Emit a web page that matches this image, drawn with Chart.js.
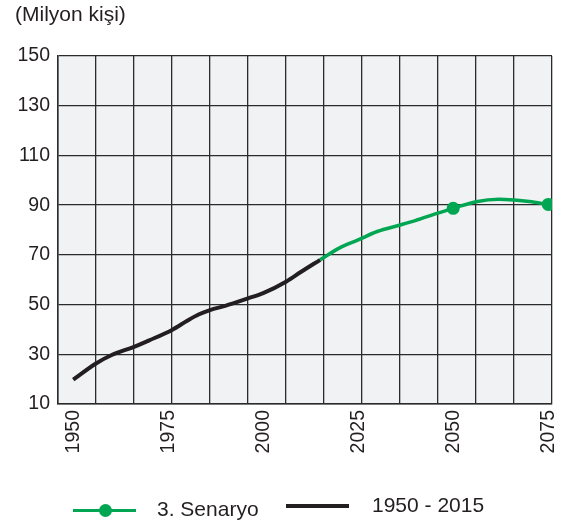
<!DOCTYPE html>
<html>
<head>
<meta charset="utf-8">
<script src="https://cdn.jsdelivr.net/npm/chart.js@4/dist/chart.umd.min.js"></script>
<style>
  body { margin: 0; background: #fff; font-family: "Liberation Sans", Arial, sans-serif; }
  #wrap { position: relative; width: 567px; height: 525px; }
  #title { position: absolute; left: 15px; top: 2px; font-size: 21px; color: #231f20; }
  .leg-line { position: absolute; height: 4px; }
  .leg-dot { position: absolute; width: 13px; height: 13px; border-radius: 50%; background: #00a651; }
  .leg-text { position: absolute; font-size: 21px; color: #231f20; }
</style>
</head>
<body>
<div id="wrap">
  <canvas id="chart" width="567" height="525"></canvas>
  <div id="title">(Milyon kişi)</div>
  <div class="leg-line" style="left:73px; top:509px; width:63px; height:3px; background:#00a651;"></div>
  <div class="leg-dot" style="left:99px; top:504px;"></div>
  <div class="leg-text" style="left:157px; top:497px;">3. Senaryo</div>
  <div class="leg-line" style="left:286px; top:504px; width:63px; background:#231f20;"></div>
  <div class="leg-text" style="left:372px; top:493px;">1950 - 2015</div>
</div>
<script>
// gecmis veriler (1950 - 2015)
const pastYears = [1950, 1956, 1960, 1966, 1970, 1976, 1980, 1983, 1986, 1990, 1996, 2000, 2006, 2010, 2015];
const pastValues = [19.8, 26.3, 29.6, 33, 35.6, 39.8, 43.5, 46, 47.8, 49.5, 52.5, 54.6, 59.2, 63.2, 68];

// 3. senaryo
const scenYears = [2015, 2020, 2025, 2030, 2036, 2040, 2046, 2050, 2056, 2062, 2066, 2070, 2075];
const scenValues = [68, 72.7, 76, 79.4, 82, 83.8, 86.8, 88.7, 91.4, 92.4, 92.1, 91.5, 90.3];
const markerYears = [2050, 2075];

const gridYears = [1946, 1956, 1966, 1976, 1986, 1996, 2006, 2016, 2026, 2036, 2046, 2056, 2066, 2076];
const labelYears = [1950, 1975, 2000, 2025, 2050, 2075];
const yLabels = [10, 30, 50, 70, 90, 110, 130, 150];

const gridColor = "#2b2b2b";

const plotBg = {
  id: "plotBg",
  beforeDraw(chart) {
    const a = chart.chartArea;
    const ctx = chart.ctx;
    ctx.save();
    ctx.fillStyle = "#f1f2f4";
    ctx.fillRect(a.left, a.top, a.right - a.left, a.bottom - a.top);
    ctx.restore();
  },
};

new Chart(document.getElementById("chart").getContext("2d"), {
  type: "line",
  data: {
    datasets: [
      {
        label: "3. Senaryo",
        data: scenYears.map((y, i) => ({ x: y, y: scenValues[i] })),
        borderColor: "#00a651",
        backgroundColor: "#00a651",
        borderWidth: 3.5,
        tension: 0.4,
        cubicInterpolationMode: "monotone",
        pointRadius: (c) => (c.raw && markerYears.includes(c.raw.x) ? 6.5 : 0),
        pointBorderWidth: 0,
      },
      {
        label: "1950 - 2015",
        data: pastYears.map((y, i) => ({ x: y, y: pastValues[i] })),
        borderColor: "#231f20",
        borderWidth: 4,
        tension: 0.4,
        cubicInterpolationMode: "monotone",
        pointRadius: 0,
      },
    ],
  },
  options: {
    responsive: false,
    animation: false,
    layout: { padding: { left: 0, right: 15, top: 56, bottom: 0 } },
    plugins: { legend: { display: false }, tooltip: { enabled: false } },
    scales: {
      x: {
        type: "linear",
        min: 1946,
        max: 2076,
        afterBuildTicks: (s) => {
          s.ticks = [...gridYears, ...labelYears].sort((a, b) => a - b).map((v) => ({ value: v }));
        },
        afterFit: (s) => {
          s.height = 121;
          s.paddingRight = 0;
          s.paddingLeft = 0;
        },
        grid: {
          drawTicks: false,
          lineWidth: 1.3,
          color: (c) => (c.tick && gridYears.includes(c.tick.value) ? gridColor : "rgba(0,0,0,0)"),
        },
        border: { color: gridColor, width: 1.5 },
        ticks: {
          autoSkip: false,
          minRotation: 90,
          maxRotation: 90,
          padding: 6,
          color: "#231f20",
          font: { family: "Liberation Sans", size: 19.5 },
          callback: (v) => (labelYears.includes(v) ? String(v) : ""),
        },
      },
      y: {
        min: 10,
        max: 150,
        afterFit: (s) => { s.width = 58; },
        grid: { drawTicks: false, lineWidth: 1.3, color: gridColor },
        border: { color: gridColor, width: 1.5 },
        ticks: {
          stepSize: 10,
          padding: 8,
          color: "#231f20",
          font: { family: "Liberation Sans", size: 19.5 },
          callback: (v) => (yLabels.includes(v) ? String(v) : ""),
        },
      },
    },
  },
  plugins: [plotBg],
});
</script>
</body>
</html>
